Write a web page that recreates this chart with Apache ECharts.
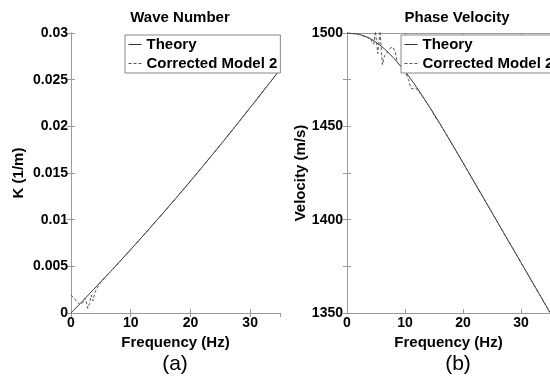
<!DOCTYPE html>
<html lang="en">
  <head>
    <meta charset="UTF-8" />
    <title>Wave Number / Phase Velocity</title>
    <script src="https://cdn.jsdelivr.net/npm/echarts@6/dist/echarts.min.js"></script>
    <style>
      * {
        margin: 0;
        padding: 0;
      }
      body {
        background: #fff;
      }
    </style>
  </head>
  <body>
    <div id="charts" style="width: 550px; height: 379px"></div>
    <script>
      var seriesNames = ["Theory", "Corrected Model 2"];

      // (a) wave number
      var kTheoryFreq = [0, 2.5, 5, 7.5, 10, 12.5, 15, 17.5, 20, 22.5, 25, 27.5, 30, 32.5, 35];
      var kTheory = [0, 0.00166, 0.00334, 0.00505, 0.0068, 0.00858, 0.0104, 0.01225, 0.01413, 0.01605, 0.018, 0.01998, 0.022, 0.02403, 0.02608];
      var kCorrFreq = [0, 0.5, 1, 1.5, 2, 2.4, 2.8, 3.1, 3.4, 3.7, 4, 4.3, 4.7, 5, 7.5, 10, 12.5, 15, 17.5, 20, 22.5, 25, 27.5, 30, 32.5, 35];
      var kCorr = [0.0019, 0.0016, 0.0012, 0.0009, 0.0011, 0.0016, 0.0005, 0.001, 0.0019, 0.0013, 0.0022, 0.0026, 0.003, 0.00334, 0.00505, 0.0068, 0.00858, 0.0104, 0.01225, 0.01413, 0.01605, 0.018, 0.01998, 0.022, 0.02403, 0.02608];

      // (b) phase velocity
      var vTheoryFreq = [0, 2, 4, 6, 8, 10, 12, 14, 16, 18, 20, 22, 24, 26, 28, 30, 32, 34, 35];
      var vTheory = [1500, 1499.3, 1497, 1492.7, 1486.7, 1479.5, 1470.9, 1461.5, 1451.5, 1441.1, 1430.5, 1419.8, 1409.1, 1398.4, 1387.7, 1377, 1366.3, 1355.6, 1350.2];
      var vCorrFreq = [0, 2, 4, 4.6, 4.9, 5.3, 5.7, 6.1, 6.5, 7.0, 7.5, 7.9, 8.3, 8.7, 9.2, 10, 10.6, 11.0, 11.4, 11.8, 12.3, 13, 14, 14.6, 15.2, 16, 18, 20, 22, 24, 26, 28, 30, 32, 34, 35];
      var vCorr = [1500, 1499.3, 1497, 1494, 1501, 1489, 1501, 1483, 1488, 1490, 1492, 1492.5, 1490, 1484, 1482.5, 1479.5, 1475, 1470.5, 1470, 1470.5, 1469, 1466, 1461.5, 1458.5, 1455, 1451.5, 1441.1, 1430.5, 1419.8, 1409.1, 1398.4, 1387.7, 1377, 1366.3, 1355.6, 1350.2];

      var xTicks = { min: 0, max: 35, interval: 10 };
      var kTicks = { min: 0, max: 0.03, interval: 0.005 };
      var vTicks = { min: 1350, max: 1500, interval: 25 };

      function pairs(xs, ys) {
        return xs.map(function (x, i) {
          return [x, ys[i]];
        });
      }

      var font = "'Liberation Sans', Arial, sans-serif";
      var frameColor = "#9a9a9a";
      var lineColor = "#333";

      function axis(grid, pos, ticks, opts) {
        var a = {
          type: "value",
          gridIndex: grid,
          position: pos,
          min: ticks.min,
          max: ticks.max,
          interval: ticks.interval,
          splitLine: { show: false },
          axisLine: { show: true, lineStyle: { color: frameColor, width: 1 } },
          axisTick: { show: true, inside: true, length: 4, lineStyle: { color: frameColor } },
          axisLabel: { show: false },
        };
        return Object.assign(a, opts || {});
      }

      var labelStyle = {
        show: true,
        color: "#000",
        fontWeight: "bold",
        fontSize: 14,
        fontFamily: font,
      };
      var nameStyle = { color: "#000", fontWeight: "bold", fontSize: 15, fontFamily: font };

      function xMain(grid) {
        return axis(grid, "bottom", xTicks, {
          name: "Frequency (Hz)",
          nameLocation: "middle",
          nameGap: 17,
          nameTextStyle: nameStyle,
          axisLabel: Object.assign({}, labelStyle, { margin: 3, showMaxLabel: false }),
        });
      }

      function legendAt(left) {
        return {
          data: seriesNames,
          orient: "vertical",
          left: left,
          top: 35,
          itemWidth: 13,
          itemHeight: 10,
          itemGap: 4,
          padding: [2, 3, 2, 3],
          borderColor: "#888",
          borderWidth: 1,
          backgroundColor: "#fff",
          itemStyle: { color: "rgba(0,0,0,0)", borderWidth: 0 },
          lineStyle: { width: 1 },
          textStyle: nameStyle,
        };
      }

      var myEcharts = echarts.init(document.getElementById("charts"));
      var options = {
        animation: false,
        backgroundColor: "#fff",
        title: [
          { text: "Wave Number", left: 175, top: 5, textAlign: "center", textStyle: nameStyle },
          { text: "Phase Velocity", left: 452, top: 5, textAlign: "center", textStyle: nameStyle },
          { text: "(a)", left: 170, top: 349, textAlign: "center", textStyle: { color: "#000", fontWeight: "normal", fontSize: 21, fontFamily: font } },
          { text: "(b)", left: 453, top: 349, textAlign: "center", textStyle: { color: "#000", fontWeight: "normal", fontSize: 21, fontFamily: font } },
        ],
        legend: [legendAt(125), legendAt(401)],
        grid: [
          { left: 71, top: 33, width: 209, height: 280 },
          { left: 347, top: 33, width: 210, height: 280 },
        ],
        xAxis: [
          xMain(0),
          axis(0, "top", xTicks),
          xMain(1),
          axis(1, "top", xTicks),
        ],
        yAxis: [
          axis(0, "left", kTicks, {
            name: "K (1/m)",
            nameLocation: "middle",
            nameGap: 45,
            nameTextStyle: nameStyle,
            axisLabel: Object.assign({}, labelStyle, { margin: 3 }),
          }),
          axis(0, "right", kTicks),
          axis(1, "left", vTicks, {
            name: "Velocity (m/s)",
            nameLocation: "middle",
            nameGap: 37,
            nameTextStyle: nameStyle,
            axisLabel: Object.assign({}, labelStyle, {
              margin: 4,
              formatter: function (v) {
                return v % 50 === 0 ? String(v) : "";
              },
            }),
          }),
          axis(1, "right", vTicks),
        ],
        series: [
          {
            name: "Theory",
            type: "line",
            xAxisIndex: 0,
            yAxisIndex: 0,
            symbol: "none",
            smooth: 0.3,
            data: pairs(kTheoryFreq, kTheory),
            lineStyle: { color: lineColor, width: 1 },
            itemStyle: { color: lineColor },
          },
          {
            name: "Corrected Model 2",
            type: "line",
            xAxisIndex: 0,
            yAxisIndex: 0,
            symbol: "none",
            data: pairs(kCorrFreq, kCorr),
            lineStyle: { color: "#555", width: 1, type: [3, 2] },
            itemStyle: { color: "#555" },
          },
          {
            name: "Theory",
            type: "line",
            xAxisIndex: 2,
            yAxisIndex: 2,
            symbol: "none",
            smooth: 0.3,
            data: pairs(vTheoryFreq, vTheory),
            lineStyle: { color: lineColor, width: 1 },
            itemStyle: { color: lineColor },
          },
          {
            name: "Corrected Model 2",
            type: "line",
            xAxisIndex: 2,
            yAxisIndex: 2,
            symbol: "none",
            data: pairs(vCorrFreq, vCorr),
            lineStyle: { color: "#555", width: 1, type: [3, 2] },
            itemStyle: { color: "#555" },
          },
        ],
      };
      myEcharts.setOption(options);
    </script>
  </body>
</html>
